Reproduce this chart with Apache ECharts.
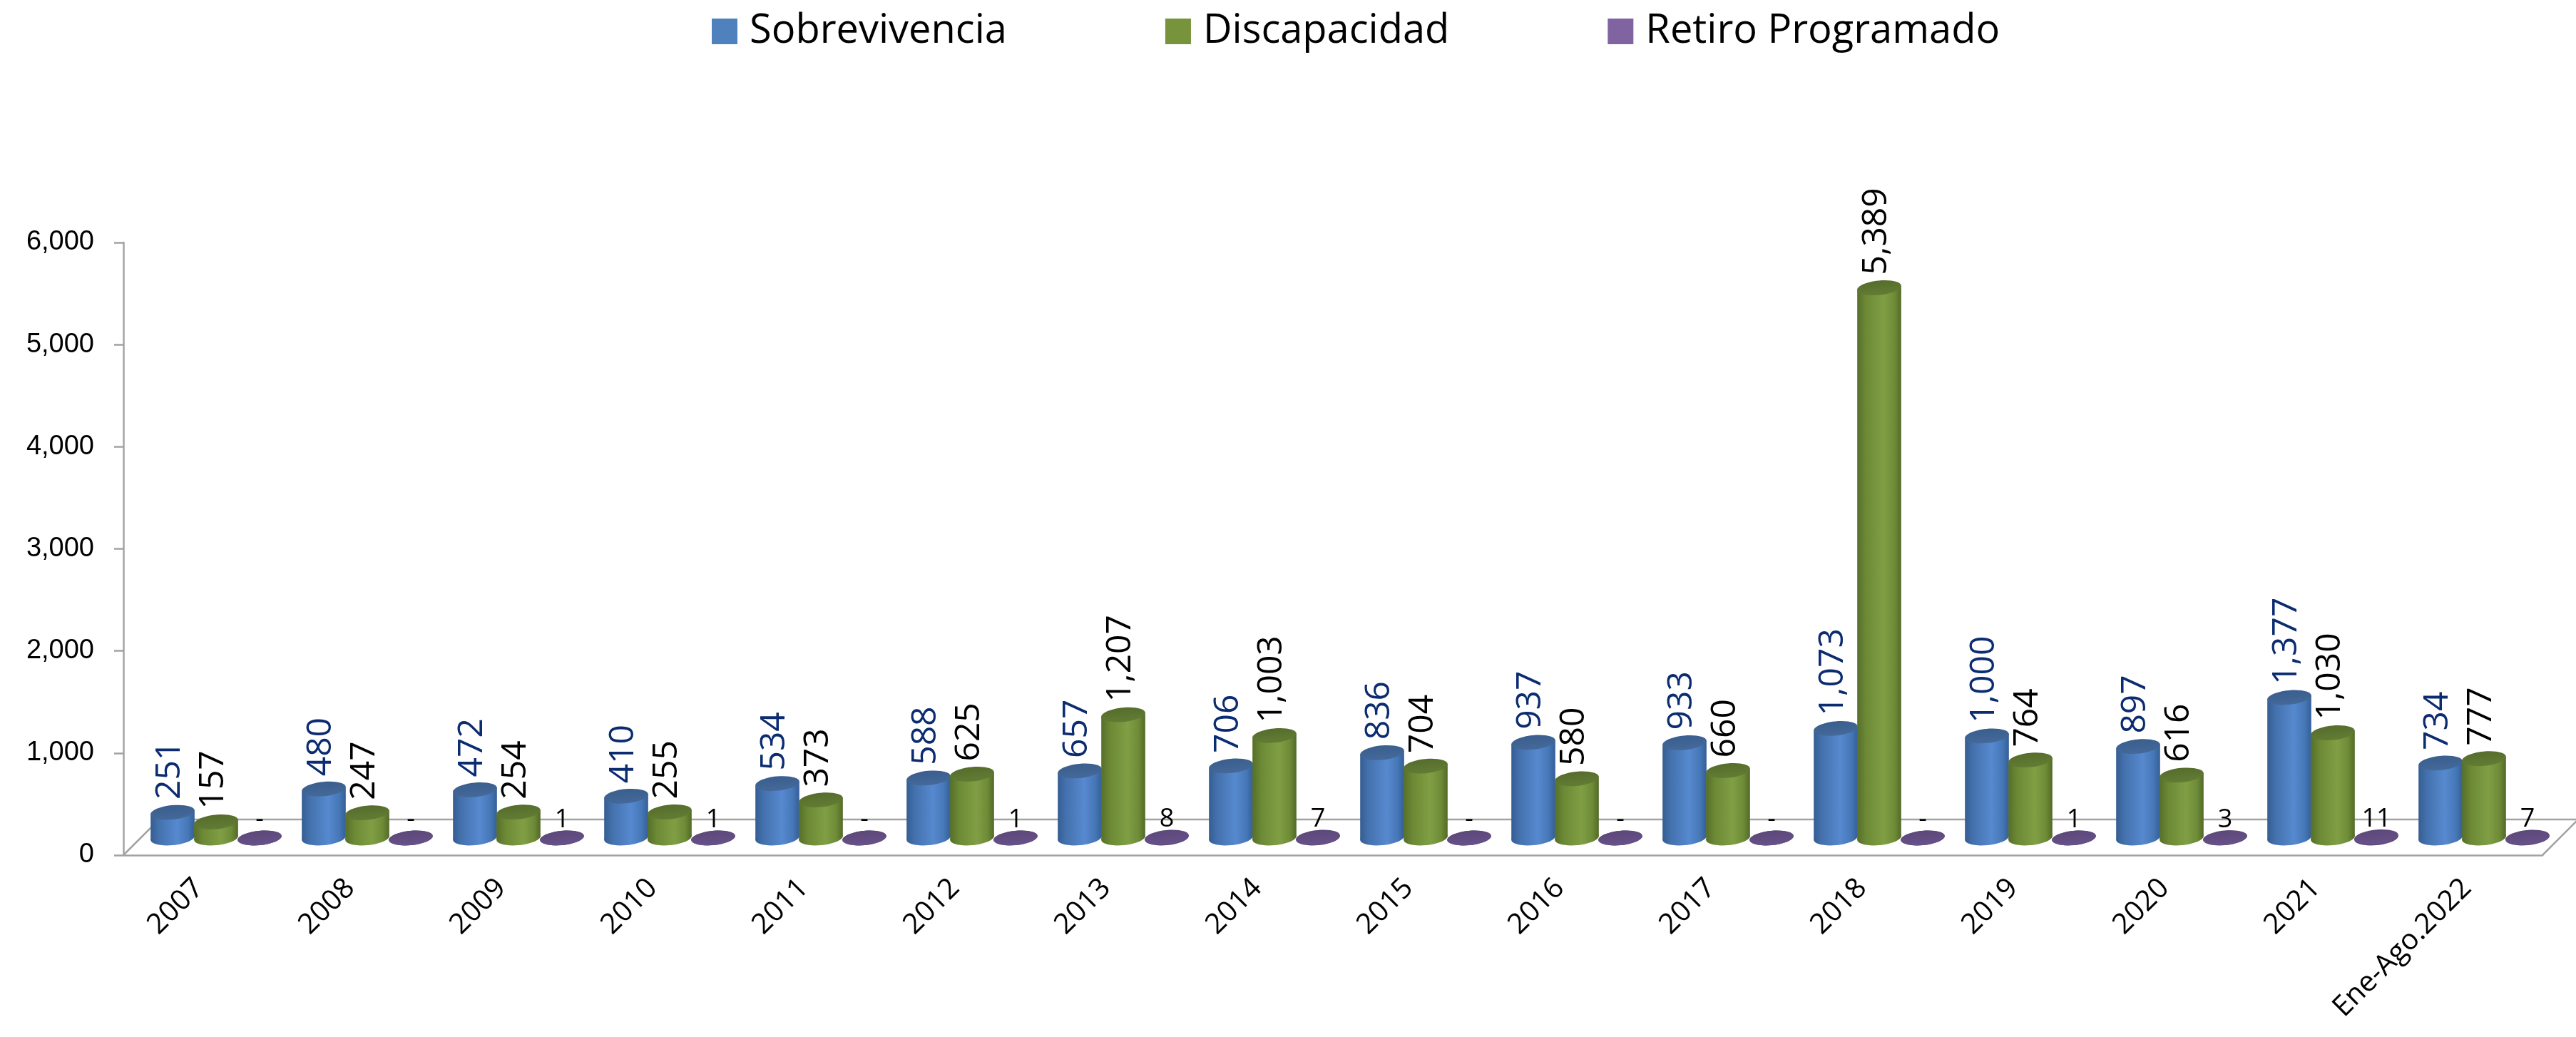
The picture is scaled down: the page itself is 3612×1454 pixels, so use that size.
<!DOCTYPE html>
<html>
<head>
<meta charset="utf-8">
<title>Pensiones por tipo</title>
<script src="https://cdn.jsdelivr.net/npm/echarts@6/dist/echarts.min.js"></script>
<style>
  html, body { margin: 0; padding: 0; background: #ffffff; }
  #chart { width: 3612px; height: 1454px; }
</style>
</head>
<body>
<div id="chart"></div>
<script>
// ---- data ----
const categories = ['2007', '2008', '2009', '2010', '2011', '2012', '2013', '2014',
  '2015', '2016', '2017', '2018', '2019', '2020', '2021', 'Ene-Ago.2022'];
const sobrevivencia = [251, 480, 472, 410, 534, 588, 657, 706, 836, 937, 933, 1073, 1000, 897, 1377, 734];
const discapacidad = [157, 247, 254, 255, 373, 625, 1207, 1003, 704, 580, 660, 5389, 764, 616, 1030, 777];
const retiroProgramado = [0, 0, 1, 1, 0, 1, 8, 7, 0, 0, 0, 0, 1, 3, 11, 7];
const seriesNames = ['Sobrevivencia', 'Discapacidad', 'Retiro Programado'];
const yMin = 0, yMax = 6000, yStep = 1000;

// ---- styling ----
const LG = echarts.graphic.LinearGradient;
const TEXT_FONT = '"Open Sans", "Noto Sans", sans-serif';
const FLOOR_DEPTH = 50;   // depth of the 3D floor, px
const ROW_LIFT = 24;      // the bar row sits this far back on the floor
const ELLIPSE_RY = 10;
const TILT = 0.1;         // slight perspective tilt of the cylinder caps (rad)

const palettes = [
  {
    legend: '#4f81bd',
    body: new LG(0, 0, 1, 0, [
      { offset: 0, color: '#345d91' }, { offset: 0.18, color: '#4471ad' },
      { offset: 0.6, color: '#5689cf' }, { offset: 0.85, color: '#4677b7' },
      { offset: 1, color: '#355f97' }]),
    top: new LG(0, 0, 0, 1, [{ offset: 0, color: '#3a5f8e' }, { offset: 1, color: '#44699a' }]),
    label: '#0b2c70'
  },
  {
    legend: '#77933c',
    body: new LG(0, 0, 1, 0, [
      { offset: 0, color: '#566f29' }, { offset: 0.2, color: '#6c8935' },
      { offset: 0.6, color: '#809f44' }, { offset: 0.85, color: '#6e8b37' },
      { offset: 1, color: '#526a27' }]),
    top: new LG(0, 0, 0, 1, [{ offset: 0, color: '#566d2c' }, { offset: 1, color: '#627c34' }]),
    label: '#000000'
  },
  {
    legend: '#8064a2',
    body: new LG(0, 0, 1, 0, [{ offset: 0, color: '#5a4677' }, { offset: 1, color: '#5e4a7c' }]),
    top: new LG(0, 0, 0, 1, [{ offset: 0, color: '#5d4879' }, { offset: 1, color: '#67518a' }]),
    label: '#000000'
  }
];

function fmt(v) {
  return v === 0 ? '-' : v.toLocaleString('en-US');
}

// tilted cap ellipse centred on (cx, cy)
function cap(cx, cy, rx, ry, fill) {
  return {
    type: 'ellipse', x: cx, y: cy, rotation: TILT,
    shape: { cx: 0, cy: 0, rx: rx, ry: ry }, style: { fill: fill }
  };
}

// One cylinder per category; k = position of the series inside the group
function cylinderSeries(name, values, k) {
  const pal = palettes[k];
  return {
    type: 'custom',
    name: name,
    z: 3 + k,
    itemStyle: { color: pal.legend },
    encode: { x: 0, y: 1 },
    data: values.map((v, i) => [i, v]),
    renderItem: function (params, api) {
      const i = api.value(0);
      const v = api.value(1);
      const top = api.coord([i, v]);
      const base = api.coord([i, 0]);
      const bw = api.size([1, 0])[0];
      const rx = bw * 0.146;
      const ry = ELLIPSE_RY;
      const cx = base[0] + ROW_LIFT + (k - 1) * bw * 0.2877;
      const yb = base[1] - ROW_LIFT;
      const yt = top[1] - ROW_LIFT;
      // side tangent points of the tilted caps
      const s = Math.sin(TILT), c = Math.cos(TILT);
      const X = Math.sqrt(rx * rx * c * c + ry * ry * s * s);
      const Yo = (rx * rx - ry * ry) * s * c / X;
      const children = [
        cap(cx, yb, rx, ry, pal.body),
        {
          type: 'polygon',
          shape: { points: [[cx - X, yt + Yo], [cx + X, yt - Yo], [cx + X, yb - Yo], [cx - X, yb + Yo]] },
          style: { fill: pal.body }
        },
        cap(cx, yt, rx, ry, pal.top)
      ];
      if (k < 2) {
        children.push({
          type: 'text', x: cx - 4, y: yt - ry - 8, rotation: Math.PI / 2, z2: 10,
          style: {
            text: fmt(v), fill: pal.label, fontFamily: TEXT_FONT, fontSize: 48,
            align: 'left', verticalAlign: 'middle'
          }
        });
      } else {
        children.push({
          type: 'text', x: cx, y: yt - ry + 3, z2: 10,
          style: {
            text: fmt(v), fill: pal.label, fontFamily: TEXT_FONT, fontSize: 36,
            align: 'center', verticalAlign: 'bottom'
          }
        });
      }
      return { type: 'group', children: children };
    }
  };
}

// Floor outline of the 3D plot area, taken from the grid rectangle
const floorSeries = {
  type: 'custom',
  name: 'floor',
  z: 1,
  silent: true,
  data: [[0, 0]],
  encode: { x: 0, y: 1 },
  renderItem: function (params, api) {
    const cs = params.coordSys;
    const x0 = cs.x, x1 = cs.x + cs.width, y0 = cs.y + cs.height;
    return {
      type: 'polyline',
      shape: { points: [[x0, y0], [x0 + FLOOR_DEPTH, y0 - FLOOR_DEPTH], [x1 + FLOOR_DEPTH, y0 - FLOOR_DEPTH], [x1, y0]] },
      style: { stroke: '#a3a3a3', lineWidth: 2.5, fill: null }
    };
  }
};

const chart = echarts.init(document.getElementById('chart'), null, { renderer: 'canvas' });
chart.setOption({
  animation: false,
  backgroundColor: '#ffffff',
  legend: {
    data: seriesNames,
    left: 998, top: 14, padding: 0,
    icon: 'rect', itemWidth: 36, itemHeight: 36, itemGap: 222,
    textStyle: { fontFamily: TEXT_FONT, fontSize: 56, color: '#000', padding: [0, 0, 0, 12], lineHeight: 60 }
  },
  grid: { left: 173, right: 47, top: 340, bottom: 255, containLabel: false },
  xAxis: {
    type: 'category',
    data: categories,
    axisLine: { lineStyle: { color: '#a3a3a3', width: 2.5 } },
    axisTick: { length: 16, lineStyle: { color: '#a3a3a3', width: 2.5 } },
    axisLabel: { interval: 0, rotate: 45, margin: 40, color: '#000', fontFamily: TEXT_FONT, fontSize: 40 }
  },
  yAxis: {
    type: 'value',
    min: yMin, max: yMax, interval: yStep,
    axisLine: { show: true, lineStyle: { color: '#a3a3a3', width: 2.5 } },
    axisTick: { show: true, length: 13, lineStyle: { color: '#a3a3a3', width: 2.5 } },
    splitLine: { show: false },
    axisLabel: { margin: 41, color: '#000', fontFamily: '"Liberation Sans", Arial, sans-serif', fontSize: 38 }
  },
  series: [
    floorSeries,
    cylinderSeries(seriesNames[0], sobrevivencia, 0),
    cylinderSeries(seriesNames[1], discapacidad, 1),
    cylinderSeries(seriesNames[2], retiroProgramado, 2)
  ]
});
</script>
</body>
</html>
